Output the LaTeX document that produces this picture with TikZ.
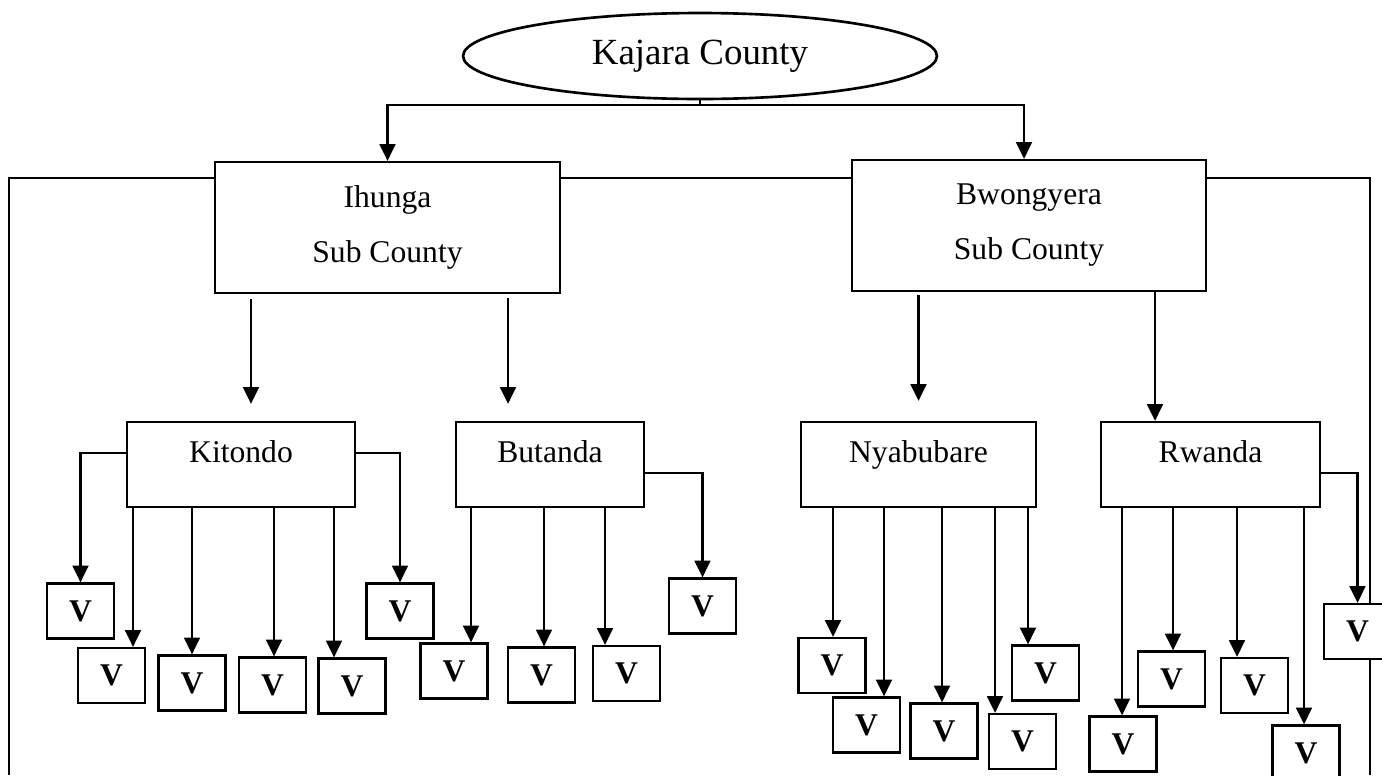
\documentclass[tikz,border=0pt]{standalone}
\usepackage{fontspec}
\setmainfont{Liberation Serif}
\usetikzlibrary{shapes.geometric,arrows.meta}

\begin{document}
\begin{tikzpicture}[x=0.02cm,y=-0.02cm,
  wire/.style={line width=1.3pt},
  arr/.style={wire,-{Triangle[length=9.5pt,width=9pt]}},
  county/.style={ellipse,draw,line width=1.5pt,minimum width=9.48cm,minimum height=1.72cm,font=\fontsize{21}{25}\selectfont},
  subcty/.style={draw,wire,minimum height=2.62cm,align=center,font=\fontsize{18}{31.3}\selectfont},
  parish/.style={draw,wire,inner ysep=0pt,text height=23.3pt,text depth=25.1pt,font=\fontsize{18}{22}\selectfont},
  vbox/.style={draw,wire,fill=white,minimum width=1.34cm,minimum height=1.1cm,font=\fontsize{18}{22}\selectfont\bfseries}]
  \useasboundingbox (0,0) rectangle (1382,775);

  \node[county] at (700,56) (kc) {Kajara County};
  \node[subcty,minimum width=6.9cm] at (387.5,227.5) (ihu) {Ihunga\\Sub County};
  \node[subcty,minimum width=7.08cm] at (1029,225.5) (bwo) {Bwongyera\\Sub County};

  \coordinate (fork) at ([yshift=-.1cm]kc.south);
  \draw[wire] (kc.south) -- (fork);
  \draw[arr] (fork) -| (ihu.north);
  \draw[arr] (fork) -| ([xshift=-.1cm]bwo.north);

  % outer rim, under the boxes
  \coordinate (rim) at ([yshift=-.34cm]ihu.north west);
  \coordinate (rimL) at (9,775); \coordinate (rimR) at (1370,775);
  \draw[wire] (rimL) |- (rim);
  \draw[wire] (rim -| ihu.east) -- (rim -| bwo.west);
  \draw[wire] (rim -| bwo.east) -| (rimR);

  \node[parish,minimum width=4.56cm] at (241,464.5) (kit) {Kitondo};
  \node[parish,minimum width=3.76cm] at (550,464.5) (but) {Butanda};
  \node[parish,minimum width=4.7cm] at (918.5,464.5) (nya) {Nyabubare};
  \node[parish,minimum width=4.38cm] at (1210.5,464.5) (rwa) {Rwanda};

  \draw[arr,shorten <=.1cm,shorten >=.34cm] ([xshift=.2cm]kit.north |- ihu.south) -- ([xshift=.2cm]kit.north);
  \draw[arr,shorten <=.08cm,shorten >=.34cm] ([xshift=-.84cm]but.north |- ihu.south) -- ([xshift=-.84cm]but.north);
  \draw[arr,shorten <=.06cm,shorten >=.4cm] (nya.north |- bwo.south) -- (nya.north);
  \draw[arr] ([xshift=-1.11cm]rwa.north |- bwo.south) -- ([xshift=-1.11cm]rwa.north);

  \node[vbox] at (80.5,611) (k1) {V};
  \node[vbox] at (400,611) (k6) {V};
  \node[vbox] at (702.5,606) (b4) {V};
  \node[vbox] at (1357.5,631.5) (r5) {V};
  \draw[arr] ([yshift=.23cm]kit.west) -| (k1.north);
  \draw[arr] ([yshift=.23cm]kit.east) -| (k6.north);
  \draw[arr] ([yshift=-.17cm]but.east) -| (b4.north);
  \draw[arr] ([yshift=-.17cm]rwa.east) -| (r5.north);

  \foreach \p/\v/\cx/\cy/\dx in {kit/k2/111.5/675.5/21.5, kit/k3/192/683/0,
      kit/k4/272.5/685/1.5, kit/k5/352/686/-18,
      but/b1/454/671/17, but/b2/541.5/675/2.5, but/b3/626.5/673.5/-21.5,
      nya/n1/832/665.5/1, nya/n2/866.5/725/17.5, nya/n3/944/731/-2,
      nya/n4/1022.5/741.5/-27.5, nya/n5/1045.5/673/-17.5,
      rwa/r1/1123/744/-1, rwa/r2/1171.5/679/1.5, rwa/r3/1254.5/685.5/-17.5,
      rwa/r4/1306/753/-2}
  {
    \node[vbox] at (\cx,\cy) (\v) {V};
    \draw[arr] ([xshift=\dx*0.02cm]\v.north |- \p.south) -- ([xshift=\dx*0.02cm]\v.north);
  }
\end{tikzpicture}
\end{document}
